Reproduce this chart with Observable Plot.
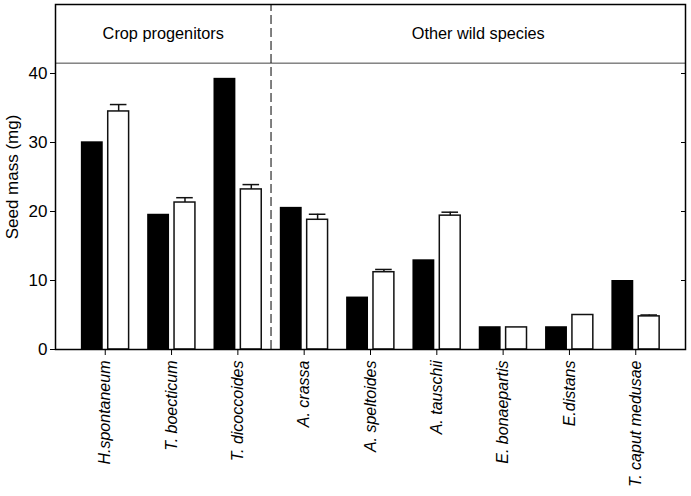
<!DOCTYPE html>
<html>
<head>
<meta charset="utf-8">
<script src="https://cdn.jsdelivr.net/npm/d3@7"></script>
<script src="https://cdn.jsdelivr.net/npm/@observablehq/plot@0.6"></script>
<style>
  body { margin: 0; background: #fff; }
  #chart svg { display: block; }
</style>
</head>
<body>
<div id="chart"></div>
<script>
const species = ["H.spontaneum", "T. boecticum", "T. dicoccoides", "A. crassa", "A. speltoides", "A. tauschii", "E. bonaepartis", "E.distans", "T. caput medusae"];
const blackValues = [30.1, 19.6, 39.3, 20.6, 7.6, 13.0, 3.3, 3.3, 10.0];
const whiteValues = [34.5, 21.3, 23.2, 18.8, 11.2, 19.4, 3.2, 5.0, 4.8];
const whiteErrors = [1.0, 0.7, 0.7, 0.8, 0.4, 0.5, 0, 0, 0.2];
const yTicks = [0, 10, 20, 30, 40];
const groups = [
  {name: "Crop progenitors", from: 0, to: 2},
  {name: "Other wild species", from: 3, to: 8}
];
const yLabel = "Seed mass (mg)";

const idx = species.map((_, i) => i);
const pad = 0.75;
const xMin = -pad, xMax = species.length - 1 + pad;
const headerY = 41.5, yMax = 50;
const divider = (groups[0].to + groups[1].from) / 2;

const blackData = idx.map(i => ({i, v: blackValues[i]}));
const whiteData = idx.map(i => ({i, v: whiteValues[i], e: whiteErrors[i]}));
const errData = whiteData.filter(d => d.e > 0);
const groupData = groups.map(g => ({
  name: g.name,
  x: ((g.from === 0 ? xMin : (g.from + (g.from - 1)) / 2) + (g.to === species.length - 1 ? xMax : (g.to + g.to + 1) / 2)) / 2
}));

const chart = Plot.plot({
  width: 691,
  height: 496,
  marginLeft: 55,
  marginRight: 6,
  marginTop: 4,
  marginBottom: 147,
  style: {fontFamily: "'Liberation Sans', Arial, sans-serif", fontSize: "16px", color: "#000", background: "#fff"},
  x: {domain: [xMin, xMax], axis: null},
  y: {domain: [0, yMax], axis: null},
  marks: [
    Plot.rectY(blackData, {x1: d => d.i - 0.36, x2: d => d.i - 0.03, y1: 0, y2: "v", fill: "#000"}),
    Plot.rectY(whiteData, {x1: d => d.i + 0.045, x2: d => d.i + 0.36, y1: 0, y2: "v", fill: "#fff", stroke: "#111", strokeWidth: 1.5}),
    Plot.ruleX(errData, {x: d => d.i + 0.2025, y1: "v", y2: d => d.v + d.e, stroke: "#111", strokeWidth: 1.5}),
    Plot.ruleY(errData, {y: d => d.v + d.e, x1: d => d.i + 0.2025 - 0.125, x2: d => d.i + 0.2025 + 0.125, stroke: "#111", strokeWidth: 1.5}),
    Plot.ruleY([headerY], {stroke: "#444", strokeWidth: 1}),
    Plot.ruleX([divider], {y1: 0, y2: yMax, stroke: "#000", strokeWidth: 1, strokeDasharray: "9,4"}),
    Plot.text(groupData, {x: "x", y: (headerY + yMax) / 2, text: "name", fontSize: 16.3, fill: "#000"}),
    Plot.axisY({ticks: yTicks, anchor: "left", tickSize: 5, tickPadding: 3, fontSize: 17, label: yLabel, labelAnchor: "center", labelArrow: "none", labelOffset: 50}),
    Plot.axisY({ticks: yTicks.filter(t => t > 0), anchor: "right", tickSize: 5, insetRight: 5, tickFormat: () => "", label: null}),
    Plot.axisX({ticks: idx, anchor: "bottom", tickFormat: i => species[i], tickRotate: -90, tickSize: 6, tickPadding: 5, fontSize: 16, fontStyle: "italic", label: null}),
    Plot.frame({stroke: "#000", strokeWidth: 1.5})
  ]
});
document.getElementById("chart").appendChild(chart);
</script>
</body>
</html>
